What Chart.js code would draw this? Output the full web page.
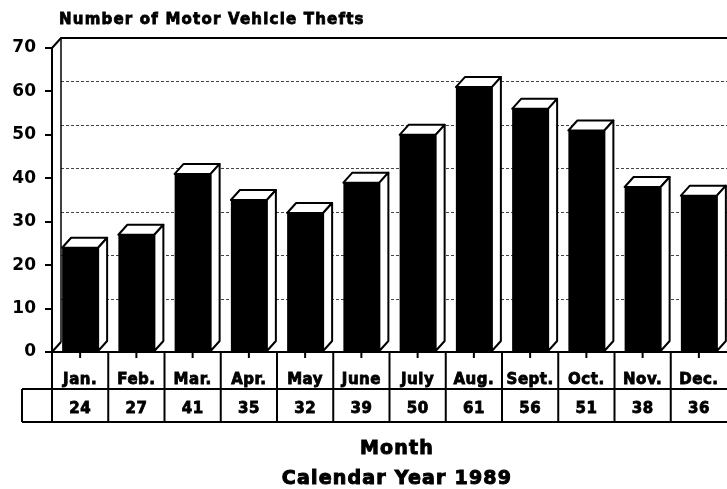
<!DOCTYPE html>
<html>
<head>
<meta charset="utf-8">
<script src="https://cdn.jsdelivr.net/npm/chart.js@4.4.1/dist/chart.umd.min.js"></script>
<style>
  html, body { margin: 0; padding: 0; background: #fff; overflow: hidden; }
  canvas { display: block; }
</style>
</head>
<body>
<canvas id="theftChart" width="727" height="489"></canvas>
<script>
// values
const months = ['Jan.', 'Feb.', 'Mar.', 'Apr.', 'May', 'June', 'July', 'Aug.', 'Sept.', 'Oct.', 'Nov.', 'Dec.'];
const thefts = [24, 27, 41, 35, 32, 39, 50, 61, 56, 51, 38, 36];
const yMin = 0;
const yMax = 70;
const yStep = 10;

const chartTitle = 'Number of Motor Vehicle Thefts';
const xTitle = 'Month';
const xSubTitle = 'Calendar Year 1989';

const FONT = 'DejaVu Sans';
const DX = 9;   // depth of the 3d effect
const DY = 10;

// heavy text, the original print is very bold
function boldText(ctx, text, x, y, weight) {
    ctx.fillText(text, x, y);
    ctx.lineWidth = weight;
    ctx.strokeText(text, x, y);
}

// back wall, gridlines and floor edge
const wallPlugin = {
    id: 'wall',
    beforeDatasetsDraw(chart) {
        const ctx = chart.ctx;
        const a = chart.chartArea;
        const y = chart.scales.y;
        ctx.save();

        // dashed gridlines on the back wall
        ctx.lineWidth = 1;
        ctx.setLineDash([3, 2]);
        ctx.strokeStyle = '#444';
        for (let v = yMin + yStep; v < yMax; v += yStep) {
            const py = Math.round(y.getPixelForValue(v) - DY) + 0.5;
            ctx.beginPath();
            ctx.moveTo(a.left + DX, py);
            ctx.lineTo(a.right, py);
            ctx.stroke();
        }
        ctx.setLineDash([]);
        ctx.strokeStyle = '#000';

        // back wall vertical
        ctx.lineWidth = 1.5;
        ctx.beginPath();
        ctx.moveTo(a.left + DX, y.getPixelForValue(yMax) - DY);
        ctx.lineTo(a.left + DX, y.getPixelForValue(yMin) - DY);
        ctx.stroke();

        // top edge and corner
        ctx.lineWidth = 2;
        ctx.beginPath();
        ctx.moveTo(a.left, y.getPixelForValue(yMax));
        ctx.lineTo(a.left + DX, y.getPixelForValue(yMax) - DY);
        ctx.lineTo(a.right, y.getPixelForValue(yMax) - DY);
        ctx.stroke();

        // floor corner
        ctx.beginPath();
        ctx.moveTo(a.left, y.getPixelForValue(yMin));
        ctx.lineTo(a.left + DX, y.getPixelForValue(yMin) - DY);
        ctx.stroke();
        ctx.restore();
    }
};

// white top and side faces of every bar
const barFacesPlugin = {
    id: 'barFaces',
    afterDatasetsDraw(chart) {
        const ctx = chart.ctx;
        const meta = chart.getDatasetMeta(0);
        ctx.save();
        ctx.fillStyle = '#fff';
        ctx.strokeStyle = '#000';
        ctx.lineWidth = 2;
        ctx.lineJoin = 'round';
        meta.data.forEach(bar => {
            const p = bar.getProps(['x', 'y', 'base', 'width'], true);
            const l = p.x - p.width / 2;
            const r = p.x + p.width / 2;
            // top
            ctx.beginPath();
            ctx.moveTo(l, p.y);
            ctx.lineTo(l + DX, p.y - DY);
            ctx.lineTo(r + DX, p.y - DY);
            ctx.lineTo(r, p.y);
            ctx.closePath();
            ctx.fill();
            ctx.stroke();
            // side
            ctx.beginPath();
            ctx.moveTo(r, p.y);
            ctx.lineTo(r + DX, p.y - DY);
            ctx.lineTo(r + DX, p.base - DY);
            ctx.lineTo(r, p.base);
            ctx.closePath();
            ctx.fill();
            ctx.stroke();
        });
        ctx.restore();
    }
};

// data table under the plot and the titles
const tablePlugin = {
    id: 'table',
    afterDraw(chart) {
        const ctx = chart.ctx;
        const a = chart.chartArea;
        const x = chart.scales.x;
        const row1Top = a.bottom;
        const row2Top = a.bottom + 37;
        const row2Bottom = a.bottom + 70;
        const tableLeft = 22;

        ctx.save();
        ctx.strokeStyle = '#000';
        ctx.lineWidth = 2;

        ctx.beginPath();
        ctx.moveTo(a.left, row1Top);
        ctx.lineTo(a.right, row1Top);
        ctx.moveTo(tableLeft, row2Top);
        ctx.lineTo(a.right, row2Top);
        ctx.moveTo(tableLeft, row2Bottom);
        ctx.lineTo(a.right, row2Bottom);
        ctx.moveTo(tableLeft, row2Top);
        ctx.lineTo(tableLeft, row2Bottom);
        ctx.moveTo(a.left, row1Top);
        ctx.lineTo(a.left, row2Bottom);
        ctx.stroke();

        const half = (x.getPixelForValue(1) - x.getPixelForValue(0)) / 2;
        months.forEach((m, i) => {
            const cx = x.getPixelForValue(i);
            const edge = cx + half;
            ctx.lineWidth = 2;
            if (i < months.length - 1) {
                ctx.beginPath();
                ctx.moveTo(edge, row1Top);
                ctx.lineTo(edge, row2Bottom);
                ctx.stroke();
            }
            // small tick under each bar
            ctx.beginPath();
            ctx.moveTo(cx, row1Top);
            ctx.lineTo(cx, row1Top + 6);
            ctx.stroke();
        });

        ctx.fillStyle = '#000';
        ctx.textAlign = 'center';
        ctx.textBaseline = 'alphabetic';
        ctx.letterSpacing = '0.5px';
        ctx.font = 'bold 15px "' + FONT + '"';
        months.forEach((m, i) => {
            const cx = x.getPixelForValue(i);
            boldText(ctx, m, cx, row1Top + 32, 0.8);
            boldText(ctx, String(thefts[i]), cx, row2Top + 24, 0.8);
        });

        // titles
        ctx.textAlign = 'left';
        ctx.letterSpacing = '1.2px';
        ctx.font = 'bold 15px "' + FONT + '"';
        boldText(ctx, chartTitle, 59, 24, 0.8);

        ctx.textAlign = 'center';
        ctx.letterSpacing = '1.2px';
        ctx.font = 'bold 19px "' + FONT + '"';
        boldText(ctx, xTitle, 397, 454, 1);
        boldText(ctx, xSubTitle, 397, 484, 1);
        ctx.restore();
    }
};

const ctx = document.getElementById('theftChart').getContext('2d');
const chart = new Chart(ctx, {
    type: 'bar',
    data: {
        labels: months,
        datasets: [{
            data: thefts,
            backgroundColor: '#000',
            borderWidth: 0,
            barPercentage: 0.64,
            categoryPercentage: 1
        }]
    },
    options: {
        responsive: false,
        animation: false,
        layout: {
            padding: { top: 48, bottom: 137, left: 0, right: 0 }
        },
        plugins: {
            legend: { display: false },
            tooltip: { enabled: false },
            title: { display: false }
        },
        scales: {
            x: {
                display: false
            },
            y: {
                min: yMin,
                max: yMax,
                afterFit(scale) {
                    scale.width = 52;
                },
                ticks: {
                    stepSize: yStep,
                    color: '#000',
                    padding: 9,
                    font: { family: FONT, weight: 'bold', size: 17 }
                },
                grid: {
                    drawOnChartArea: false,
                    drawTicks: true,
                    tickLength: 7,
                    color: '#000',
                    lineWidth: 2
                },
                border: {
                    display: true,
                    color: '#000',
                    width: 2
                }
            }
        }
    },
    plugins: [wallPlugin, barFacesPlugin, tablePlugin]
});
</script>
</body>
</html>
